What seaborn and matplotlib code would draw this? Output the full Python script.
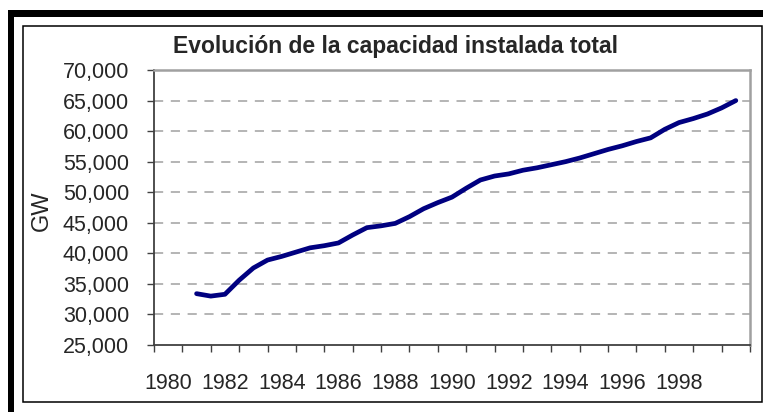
import numpy as np
import pandas as pd
import matplotlib
matplotlib.use("Agg")
import matplotlib.pyplot as plt
from matplotlib.patches import Rectangle
from matplotlib.ticker import FuncFormatter, MultipleLocator
import seaborn as sns

# half-year readings of installed capacity (GW)
years = [1981.0, 1981.5, 1982.0, 1982.5, 1983.0, 1983.5, 1984.0, 1984.5,
         1985.0, 1985.5, 1986.0, 1986.5, 1987.0, 1987.5, 1988.0, 1988.5,
         1989.0, 1989.5, 1990.0, 1990.5, 1991.0, 1991.5, 1992.0, 1992.5,
         1993.0, 1993.5, 1994.0, 1994.5, 1995.0, 1995.5, 1996.0, 1996.5,
         1997.0, 1997.5, 1998.0, 1998.5, 1999.0, 1999.5, 2000.0]
capacity = [33400, 33000, 33300, 35600, 37600, 38900, 39500, 40200,
            40900, 41250, 41700, 43000, 44200, 44500, 44900, 46000,
            47300, 48300, 49200, 50650, 52000, 52650, 53000, 53600,
            54000, 54500, 55000, 55600, 56300, 57000, 57600, 58300,
            58900, 60300, 61400, 62050, 62800, 63800, 65000]
year_labels = list(range(1980, 1999, 2))

df = pd.DataFrame({"year": years, "GW": capacity})

sns.set_style("white")
plt.rcParams["font.family"] = ["Liberation Sans", "DejaVu Sans"]

fig = plt.figure(figsize=(7.67, 4.12), dpi=100)
ax = fig.add_axes([154 / 767, 1 - 345 / 412, (750 - 154) / 767, (345 - 70) / 412])

sns.lineplot(data=df, x="year", y="GW", ax=ax, color="#000080", linewidth=3.4)

ax.set_xlim(1979.5, 2000.5)
ax.set_ylim(25000, 70000)
ax.yaxis.set_major_locator(MultipleLocator(5000))
ax.yaxis.set_major_formatter(FuncFormatter(lambda v, p: f"{int(v):,}"))
ax.set_xticks(year_labels)
ax.set_xticklabels([str(y) for y in year_labels])
ax.set_xticks(np.arange(1979.5, 2001, 1.0), minor=True)
ax.tick_params(axis="x", which="major", length=0, pad=20, labelsize=15.5)
ax.tick_params(axis="x", which="minor", length=5, width=1, color="#404040",
               direction="out", bottom=True)
ax.tick_params(axis="y", length=5, width=1, color="#404040", direction="out",
               left=True, pad=13, labelsize=15.5)

for v in range(30000, 70000, 5000):
    ax.axhline(v, color="#a0a0a0", lw=1.1, ls=(0, (6, 5)), zorder=0)

for s in ["left", "bottom"]:
    ax.spines[s].set_color("#404040")
    ax.spines[s].set_linewidth(1.3)
for s in ["top", "right"]:
    ax.spines[s].set_color("#a0a0a0")
    ax.spines[s].set_linewidth(1.8)

ax.set_xlabel("")
ax.set_ylabel("")
fig.text(42 / 767, 1 - 211 / 412, "GW", rotation=90, ha="center", va="center",
         fontsize=17)
fig.text(395 / 767, 1 - 46 / 412, "Evolución de la capacidad instalada total",
         ha="center", va="center", fontsize=16.5, fontweight="bold")

# frame: thick black L plus thin inner box
fig.patches.append(Rectangle((8 / 767, 0), 6 / 767, 402 / 412, transform=fig.transFigure,
                             facecolor="black", edgecolor="none"))
fig.patches.append(Rectangle((8 / 767, 1 - 17 / 412), 755 / 767, 7 / 412,
                             transform=fig.transFigure, facecolor="black", edgecolor="none"))
fig.patches.append(Rectangle((23.3 / 767, 1 - 402 / 412), 738.4 / 767, 376 / 412,
                             transform=fig.transFigure, fill=False, edgecolor="black",
                             linewidth=1.1))

fig.savefig("out.png", dpi=100)
